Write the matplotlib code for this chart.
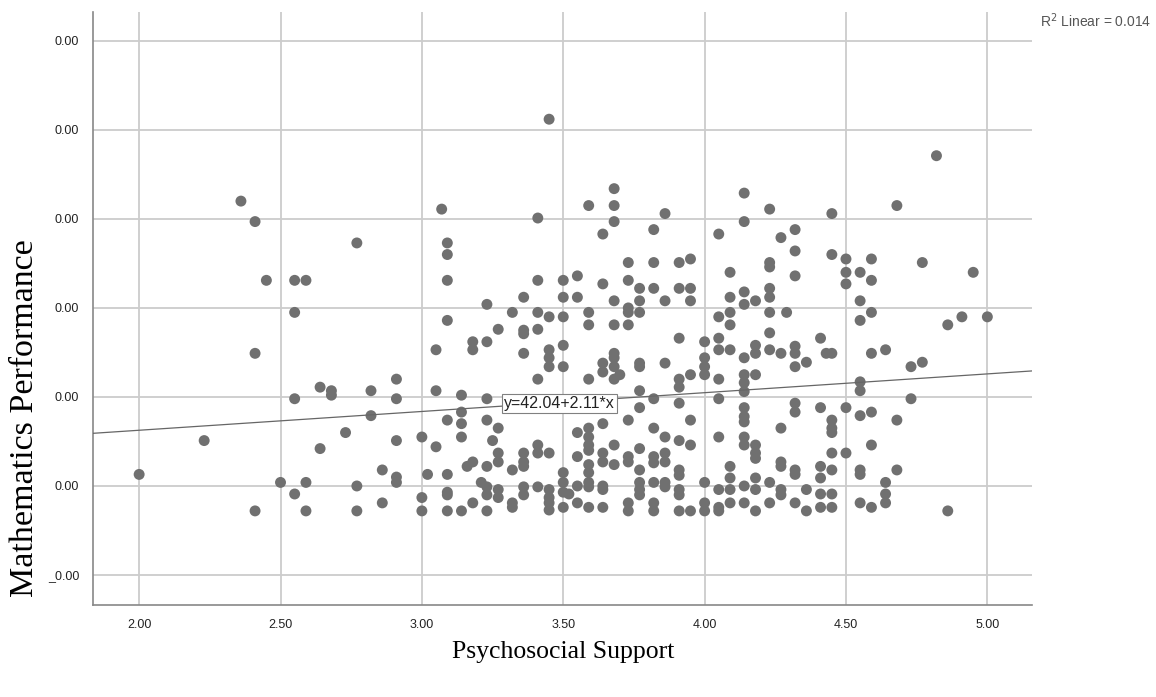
import numpy as np
import matplotlib
matplotlib.use("Agg")
import matplotlib.pyplot as plt

# psychosocial support levels (x) and the maths scores read at each level (y)
support_levels = [2.00, 2.23, 2.36, 2.41, 2.45, 2.50, 2.55, 2.59, 2.64, 2.68,
                  2.73, 2.77, 2.82, 2.86, 2.91, 3.00, 3.02, 3.05, 3.07, 3.09,
                  3.14, 3.16, 3.18, 3.21, 3.23, 3.25, 3.27, 3.32, 3.36, 3.41,
                  3.45, 3.50, 3.52, 3.55, 3.59, 3.64, 3.68, 3.70, 3.73, 3.77,
                  3.82, 3.86, 3.91, 3.95, 4.00, 4.05, 4.09, 4.14, 4.18, 4.23,
                  4.27, 4.29, 4.32, 4.36, 4.41, 4.43, 4.45, 4.50, 4.55, 4.59,
                  4.64, 4.68, 4.73, 4.77, 4.82, 4.86, 4.91, 4.95, 5.00]

performance_scores = [
    [41.3], [45.1], [72.0], [69.7, 54.9, 37.2], [63.1], [40.4],
    [63.1, 59.5, 49.8, 39.1], [63.1, 40.4, 37.2], [51.1, 44.2], [50.7, 50.2],
    [46.0], [67.3, 40.0, 37.2], [50.7, 47.9], [41.8, 38.1],
    [52.0, 49.8, 45.1, 41.0, 40.4],
    [45.5, 38.7, 37.2],  # 3.00
    [41.3],
    [55.3, 50.7, 44.4],
    [71.1],
    [67.3, 66.0, 63.1, 58.6, 47.4, 41.3, 39.3, 39.0, 37.2],
    [50.2, 48.3, 47.0, 45.5, 37.2],
    [42.2],
    [56.2, 55.3, 42.7, 38.1],
    [40.4],
    [60.4, 56.2, 49.8, 47.4, 42.2, 39.9, 39.0, 37.2],
    [45.1],
    [57.6, 46.5, 43.7, 42.7, 39.6, 38.7],
    [59.5, 41.8, 38.1, 37.6],
    [61.2, 57.5, 57.1, 54.9, 43.7, 42.7, 42.2, 39.9, 39.0],
    [70.1, 63.1, 59.5, 57.6, 52.0, 44.6, 43.7, 39.9],
    [81.2, 59.0, 55.3, 54.4, 53.4, 43.7, 39.6, 38.7, 38.1, 37.3],  # 3.45
    [63.1, 61.2, 59.0, 55.8, 53.4, 41.5, 40.4, 39.3, 37.6],
    [39.1],
    [63.6, 61.2, 46.0, 43.3, 40.0, 38.1],
    [71.5, 59.5, 58.1, 52.0, 46.5, 45.5, 44.6, 44.0, 42.4, 41.5, 40.4, 39.9, 37.6],
    [68.3, 62.7, 53.8, 52.8, 47.0, 43.7, 42.7, 40.0, 39.6, 37.6],
    [73.4, 71.5, 69.7, 60.8, 58.1, 54.9, 54.4, 53.4, 52.0, 44.6, 42.4],
    [52.5],
    [65.1, 63.1, 60.0, 59.5, 58.1, 47.4, 43.3, 42.7, 38.1, 37.2],
    [62.2, 60.8, 59.5, 53.8, 53.4, 50.7, 48.8, 44.2, 41.8, 40.4, 39.6, 39.0],
    [68.8, 65.1, 62.2, 49.8, 46.5, 43.3, 42.6, 40.4, 38.1, 37.2],
    [70.6, 60.8, 53.8, 45.5, 43.7, 42.7, 40.4, 39.9],
    [65.1, 62.2, 56.6, 52.0, 51.1, 49.3, 45.1, 41.8, 41.2, 39.6, 39.0, 37.2],
    [65.5, 62.2, 60.8, 52.5, 47.4, 44.6, 37.2],
    [56.2, 54.4, 53.4, 52.5, 40.4, 38.1, 37.2],  # 4.00
    [68.3, 59.0, 56.6, 55.3, 52.0, 49.8, 45.5, 39.6, 37.6, 37.2],
    [64.0, 61.2, 59.5, 58.1, 55.3, 42.2, 40.9, 39.6, 38.1],
    [72.9, 69.7, 61.8, 60.4, 54.4, 52.5, 51.6, 50.6, 48.8, 47.8, 47.2, 45.5, 44.6, 40.0, 38.1],
    [60.8, 55.8, 54.9, 52.5, 44.6, 43.7, 43.1, 40.9, 39.6, 37.2],
    [71.1, 65.1, 64.6, 62.2, 61.2, 59.5, 57.2, 55.3, 40.4, 38.1],
    [67.9, 54.9, 46.5, 42.7, 42.2, 39.6, 39.0],
    [59.5],
    [68.8, 66.4, 63.6, 55.7, 54.9, 53.4, 49.3, 48.3, 41.8, 41.3, 38.1],
    [53.9, 39.6, 37.2],
    [56.6, 48.8, 42.2, 40.9, 39.1, 37.6],
    [54.9],
    [70.6, 66.0, 54.9, 47.4, 46.5, 46.0, 43.7, 41.8, 39.1, 37.6],
    [65.5, 64.0, 62.7, 48.8, 43.7],
    [64.0, 60.8, 58.6, 51.7, 50.7, 47.9, 41.8, 41.3, 38.1],
    [65.5, 63.1, 59.5, 54.9, 48.3, 44.6, 37.6],
    [55.3, 40.4, 39.1, 38.1],
    [71.5, 47.4, 41.8],
    [53.4, 49.8],
    [65.1, 53.9],
    [77.1],
    [58.1, 37.2],
    [59.0],
    [64.0],
    [59.0],  # 5.00
]

intercept = 42.04
slope = 2.11
r_squared = 0.014

x_ticks = [2.0, 2.5, 3.0, 3.5, 4.0, 4.5, 5.0]
y_ticks = [30, 40, 50, 60, 70, 80, 90]
y_tick_labels = ["_0.00", "0.00", "0.00", "0.00", "0.00", "0.00", "0.00"]

x = np.concatenate([[lvl] * len(s) for lvl, s in zip(support_levels, performance_scores)])
y = np.concatenate(performance_scores)

fig = plt.figure(figsize=(11.56, 6.97), dpi=100)
ax = fig.add_axes([0.0805, 0.132, 0.8125, 0.851])

xlim = (1.837, 5.159)
ax.set_xlim(*xlim)
ax.set_ylim(26.63, 93.26)

ax.grid(True, color="#cccccc", linewidth=1.3)
ax.set_axisbelow(True)

ax.scatter(x, y, s=62, color="#707070", edgecolors="none", zorder=3)

# fit line across the whole axis
xs = np.array(xlim)
ax.plot(xs, intercept + slope * xs, color="#666666", linewidth=0.9, zorder=4)
ax.text(3.29, 49.3, f"y={intercept:.2f}+{slope:.2f}*x", fontsize=11.5,
        family="Liberation Sans", va="center", ha="left", zorder=5, color="#222222",
        bbox=dict(boxstyle="square,pad=0.12", facecolor="white", edgecolor="#808080", linewidth=0.8))

ax.set_xticks(x_ticks)
ax.set_xticklabels([f"{t:.2f}" for t in x_ticks], family="Liberation Sans", fontsize=9)
ax.set_yticks(y_ticks)
ax.set_yticklabels(y_tick_labels, family="Liberation Sans", fontsize=9)
ax.tick_params(length=0, pad=10, colors="#222222")

for side in ["top", "right"]:
    ax.spines[side].set_visible(False)
for side in ["left", "bottom"]:
    ax.spines[side].set_color("#888888")
    ax.spines[side].set_linewidth(1.2)

fig.text(1040 / 1156, 1 - 21 / 697, f"R$^2$ Linear = {r_squared:.3f}", fontsize=10,
         family="Liberation Sans", color="#555555", va="center", ha="left")

fig.text(25 / 1156, 1 - 418 / 697, "Mathematics Performance", rotation=90,
         family="Liberation Serif", fontsize=24.5, va="center", ha="center")
fig.text(563 / 1156, 1 - 652 / 697, "Psychosocial Support",
         family="Liberation Serif", fontsize=18.5, va="center", ha="center")

fig.savefig("out.png", dpi=100)
